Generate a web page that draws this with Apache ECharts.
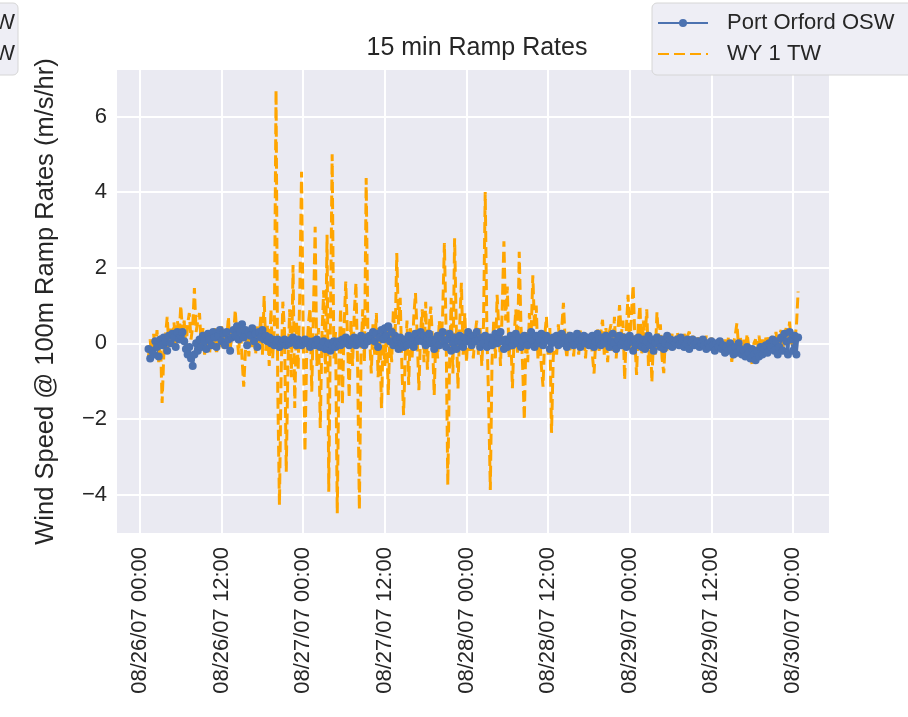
<!DOCTYPE html>
<html>
<head>
<meta charset="utf-8">
<title>15 min Ramp Rates</title>
<script src="https://cdn.jsdelivr.net/npm/echarts@6/dist/echarts.min.js"></script>
<style>
  html, body { margin: 0; padding: 0; background: #ffffff; }
  #chart { width: 908px; height: 717px; }
</style>
</head>
<body>
<div id="chart"></div>
<script>
// Sampling: one ramp-rate value every 15 minutes, hours counted from 08/26/07 00:00
const firstSampleHour = 1.25;
const sampleStepHours = 0.25;

// Tick positions (hours from 08/26/07 00:00) and their labels
const tickHours = [0, 12, 24, 36, 48, 60, 72, 84, 96];
const tickLabels = [
  '08/26/07 00:00', '08/26/07 12:00', '08/27/07 00:00', '08/27/07 12:00',
  '08/28/07 00:00', '08/28/07 12:00', '08/29/07 00:00', '08/29/07 12:00',
  '08/30/07 00:00'
];
const yTicks = [-4, -2, 0, 2, 4, 6];

const seriesNames = ['Port Orford OSW', 'WY 1 TW'];

// Port Orford OSW, 100 m wind speed ramp rate (m/s/hr)
const portOrford = [
  -0.15,-0.4,-0.2,-0.3,0.05,-0.1,-0.35,0.1,-0.05,0.15,
  0.05,-0.2,0.2,0.0,0.25,0.15,-0.1,0.3,0.1,0.2,
  0.3,0.05,-0.15,-0.3,-0.1,-0.4,-0.6,-0.3,0.0,-0.2,
  0.1,-0.1,0.2,0.05,-0.15,0.25,0.1,-0.05,0.3,0.15,
  -0.1,0.2,0.35,0.05,0.25,-0.05,0.3,0.1,-0.2,0.15,
  0.35,0.2,0.45,0.1,0.3,0.5,0.15,0.35,-0.05,0.3,
  0.2,0.4,0.05,0.25,-0.1,0.3,0.15,0.35,0.1,0.2,
  0.05,0.15,0.0,0.1,-0.05,0.05,0.1,-0.1,0.0,0.05,
  0.1,-0.05,0.05,0.0,0.1,0.15,0.05,-0.05,0.1,0.0,
  -0.05,0.05,0.1,0.0,0.05,-0.1,0.0,0.05,-0.05,0.1,
  0.0,-0.1,-0.05,0.05,-0.15,-0.1,0.0,-0.2,-0.05,0.05,
  -0.1,0.0,0.05,-0.05,0.1,0.0,0.15,0.05,-0.05,0.1,
  0.05,0.15,-0.05,0.1,0.0,0.2,0.1,-0.05,0.15,0.05,
  0.2,0.1,0.3,0.05,0.25,-0.1,0.15,0.35,0.1,0.4,
  0.2,0.45,0.05,0.3,-0.05,0.2,0.1,-0.15,0.15,0.0,
  -0.1,0.1,-0.05,0.2,0.0,0.15,-0.1,0.25,0.05,0.1,
  0.3,0.05,0.2,-0.05,0.15,0.25,0.0,0.1,-0.15,0.05,
  0.2,-0.05,0.15,0.3,0.05,-0.1,0.1,0.25,-0.2,0.0,
  0.15,-0.15,0.05,0.2,0.0,-0.1,0.15,0.05,0.3,0.1,
  -0.05,0.2,0.05,0.3,0.1,-0.1,0.15,0.0,0.2,-0.1,
  0.05,0.15,-0.05,0.1,0.25,0.0,0.15,0.3,0.05,-0.15,
  0.1,-0.1,0.05,0.2,-0.05,0.1,0.25,0.0,0.15,-0.1,
  0.05,0.2,0.1,-0.05,0.15,0.3,0.05,-0.1,0.2,0.0,
  0.1,0.25,-0.05,0.05,0.2,0.1,-0.15,0.0,0.15,0.05,
  0.2,-0.05,0.1,0.25,0.0,0.15,-0.1,0.05,0.2,0.1,
  -0.05,0.15,0.25,0.05,-0.1,0.1,0.2,0.0,0.15,-0.05,
  0.1,0.2,-0.1,0.05,0.25,0.1,-0.05,0.15,0.0,0.2,
  0.1,-0.1,0.05,0.25,0.0,-0.15,0.1,0.2,-0.05,0.05,
  0.15,-0.1,0.0,0.2,0.05,-0.2,0.1,-0.05,0.15,0.0,
  -0.1,0.1,-0.15,0.05,0.2,-0.05,0.1,-0.2,0.0,0.15,
  0.05,-0.1,0.1,-0.15,0.0,0.2,-0.05,0.1,-0.1,0.05,
  0.0,0.1,-0.05,0.15,0.05,-0.1,0.0,0.1,-0.15,0.05,
  0.1,-0.05,0.0,0.05,-0.1,0.0,0.1,-0.05,-0.15,0.0,
  -0.1,0.05,-0.05,-0.2,0.0,-0.1,0.05,-0.15,-0.05,-0.25,
  -0.1,-0.2,0.0,-0.15,-0.3,-0.1,-0.25,0.0,-0.15,-0.3,
  -0.2,-0.35,-0.1,-0.25,-0.4,-0.15,-0.3,-0.45,-0.2,-0.35,
  -0.1,-0.3,-0.15,-0.05,-0.25,0.0,-0.1,0.1,-0.2,0.05,
  -0.3,-0.1,0.15,-0.2,0.25,0.05,-0.3,0.3,0.1,-0.2,0.2,-0.3,0.15
];

// WY 1 TW, 100 m wind speed ramp rate (m/s/hr)
const wy1tw = [
  -0.35,0.1,-0.45,0.25,-0.2,0.35,-0.5,0.2,-1.58,-0.3,
  0.2,0.7,-0.1,0.45,0.05,0.55,-0.05,0.6,0.2,1.0,
  0.3,0.6,-0.2,0.5,0.8,0.1,0.45,1.46,0.3,0.6,
  0.8,-0.1,0.4,-0.3,0.3,0.1,-0.25,0.35,0.0,0.4,
  -0.3,0.25,-0.1,0.45,-0.2,0.3,0.1,0.7,-0.2,0.4,
  0.15,0.88,0.2,-0.3,0.5,-0.4,-1.15,-0.2,0.3,-0.35,
  0.4,-0.1,0.35,-0.3,0.5,0.0,0.7,-0.3,1.25,-0.2,
  0.5,-0.6,0.9,-0.4,0.4,6.7,-1.2,-4.28,-0.8,1.1,
  0.3,-3.4,-0.6,0.9,-0.9,2.07,-1.71,0.6,-0.7,1.4,
  4.54,0.2,-2.87,-0.3,0.5,0.93,-1.28,0.8,3.08,-0.6,
  0.4,-2.24,0.2,1.4,-0.8,2.87,-3.93,0.6,5.0,-0.4,
  0.3,-4.5,-0.5,0.93,-1.63,0.4,1.63,0.2,-1.45,0.6,
  -0.6,0.8,1.6,-0.7,-4.4,-0.2,0.9,-0.5,4.37,0.3,
  0.2,-0.8,0.5,-0.3,0.8,-0.9,0.3,-1.72,0.2,-0.6,
  0.4,-1.37,0.3,-0.5,0.9,0.1,2.39,0.5,1.2,-0.6,
  -1.9,-0.3,0.6,-1.1,0.4,-0.4,0.7,1.33,0.2,-1.24,
  0.3,0.9,-0.5,1.1,-0.7,0.4,0.97,0.1,-1.37,0.3,
  -0.4,0.6,-0.2,0.8,2.65,0.3,-3.75,-0.6,1.2,-0.8,
  2.78,0.4,-1.2,0.5,1.6,-0.3,0.8,-0.5,0.4,-0.2,
  0.3,-0.4,0.2,0.6,-0.3,0.4,-0.6,0.5,4.0,0.3,
  -1.5,-3.88,-0.5,0.6,-0.4,1.28,0.4,-0.6,0.9,2.7,
  0.6,1.5,-0.4,0.3,-1.19,0.2,0.9,-0.3,2.42,0.5,
  -0.6,-2.03,0.3,-0.5,0.8,0.2,1.8,0.4,1.0,-0.4,
  0.3,-0.6,-1.15,0.2,0.7,-0.3,0.4,-2.37,-0.4,0.3,
  -0.3,0.5,-0.1,0.4,1.07,0.1,-0.4,0.3,-0.2,0.25,
  -0.35,0.3,0.0,-0.3,0.35,-0.15,0.2,-0.4,0.3,-0.1,
  0.25,-0.3,-0.8,0.1,0.4,-0.2,0.3,0.62,-0.3,0.4,
  -0.5,0.3,0.5,-0.2,0.7,-0.4,0.3,1.01,0.2,0.6,
  -0.97,0.4,1.28,-0.2,0.8,1.54,0.1,-0.84,0.5,1.0,
  -0.3,0.6,0.1,0.9,-0.6,0.3,-1.03,0.2,-0.3,0.82,
  0.1,0.5,-0.4,-0.79,0.2,-0.2,0.3,-0.1,0.25,-0.2,
  0.15,0.3,-0.1,0.2,-0.15,0.25,0.05,0.2,0.31,-0.1,
  0.2,0.0,-0.1,0.15,0.05,-0.05,0.1,-0.1,0.2,0.0,
  -0.15,0.15,-0.2,0.1,-0.05,0.1,-0.2,0.0,-0.25,0.1,
  -0.2,0.15,-0.1,-0.49,0.0,0.2,0.53,-0.1,0.2,-0.3,
  0.1,-0.2,0.25,-0.1,-0.3,-0.57,0.0,0.1,-0.2,0.2,
  -0.15,0.1,-0.3,0.15,-0.1,0.2,-0.2,0.25,0.0,0.3,
  -0.1,0.2,0.35,-0.1,0.25,0.4,0.1,0.57,-0.05,0.3,
  0.1,0.45,1.37
];

const FONT = '"Liberation Sans", Arial, Helvetica, sans-serif';
const TEXT = '#262626';

function pairs(values) {
  return values.map((v, i) => [firstSampleHour + i * sampleStepHours, v]);
}

function fmtY(v) {
  return v < 0 ? '\u2212' + Math.abs(v) : String(v);
}

function fmtX(v) {
  const k = tickHours.indexOf(Math.round(v));
  return k >= 0 ? tickLabels[k] : '';
}

const chart = echarts.init(document.getElementById('chart'), null, { renderer: 'canvas' });

chart.setOption({
  animation: false,
  backgroundColor: '#ffffff',
  textStyle: { fontFamily: FONT, color: TEXT },
  title: {
    text: '15 min Ramp Rates',
    left: 472,
    top: 31,
    textAlign: 'center',
    textStyle: { fontFamily: FONT, fontSize: 25, fontWeight: 'normal', color: TEXT }
  },
  legend: {
    data: [
      { name: seriesNames[0] },
      // dashed line only, no marker in the key
      { name: seriesNames[1], itemStyle: { opacity: 0 } }
    ],
    orient: 'vertical',
    left: 652,
    top: 3,
    padding: [9, 20, 10, 5],
    itemGap: 9,
    itemWidth: 50,
    itemHeight: 10,
    selectedMode: false,
    backgroundColor: '#EEEEF5',
    borderColor: '#D6D6D6',
    borderWidth: 1,
    borderRadius: 5,
    textStyle: { fontFamily: FONT, fontSize: 22, color: TEXT, padding: [0, 0, 0, 14] }
  },
  graphic: [
    {
      // tail of a neighbouring legend box cut by the left edge
      type: 'group',
      x: -20,
      y: 3,
      children: [
        { type: 'rect', shape: { x: 0, y: 0, width: 38, height: 72, r: 5 },
          style: { fill: '#EEEEF5', stroke: '#D6D6D6', lineWidth: 1 } },
        { type: 'text', x: 35, y: 20, style: { text: 'OSW', align: 'right', verticalAlign: 'middle',
          font: '22px ' + FONT, fill: TEXT } },
        { type: 'text', x: 35, y: 51, style: { text: 'TW', align: 'right', verticalAlign: 'middle',
          font: '22px ' + FONT, fill: TEXT } }
      ]
    }
  ],
  grid: {
    left: 117,
    right: 79,
    top: 70,
    bottom: 184,
    show: true,
    backgroundColor: '#EAEAF2',
    borderWidth: 0
  },
  xAxis: {
    type: 'value',
    min: -3.38,
    max: 101.29,
    axisLine: { show: false },
    axisTick: { show: false, customValues: tickHours },
    splitLine: { show: true, lineStyle: { color: '#ffffff', width: 2 } },
    axisLabel: {
      customValues: tickHours,
      formatter: fmtX,
      rotate: 90,
      margin: 14,
      fontFamily: FONT,
      fontSize: 22,
      color: TEXT
    }
  },
  yAxis: {
    type: 'value',
    min: -5.02,
    max: 7.23,
    name: 'Wind Speed @ 100m Ramp Rates (m/s/hr)',
    nameLocation: 'middle',
    nameGap: 58,
    nameRotate: 90,
    nameTextStyle: { fontFamily: FONT, fontSize: 25.5, color: TEXT },
    axisLine: { show: false },
    axisTick: { show: false, customValues: yTicks },
    splitLine: { show: true, lineStyle: { color: '#ffffff', width: 2 } },
    axisLabel: {
      customValues: yTicks,
      formatter: fmtY,
      margin: 10,
      fontFamily: FONT,
      fontSize: 22,
      color: TEXT
    }
  },
  series: [
    {
      name: seriesNames[0],
      type: 'line',
      data: pairs(portOrford),
      symbol: 'circle',
      symbolSize: 8,
      showSymbol: true,
      showAllSymbol: true,
      color: '#4C72B0',
      itemStyle: { color: '#4C72B0', borderWidth: 0 },
      lineStyle: { color: '#4C72B0', width: 2.5 },
      emphasis: { disabled: true }
    },
    {
      name: seriesNames[1],
      type: 'line',
      data: pairs(wy1tw),
      symbol: 'none',
      showSymbol: false,
      color: '#FFA500',
      itemStyle: { color: '#FFA500' },
      lineStyle: { color: '#FFA500', width: 3, type: [11, 5] },
      emphasis: { disabled: true }
    }
  ]
});
</script>
</body>
</html>
